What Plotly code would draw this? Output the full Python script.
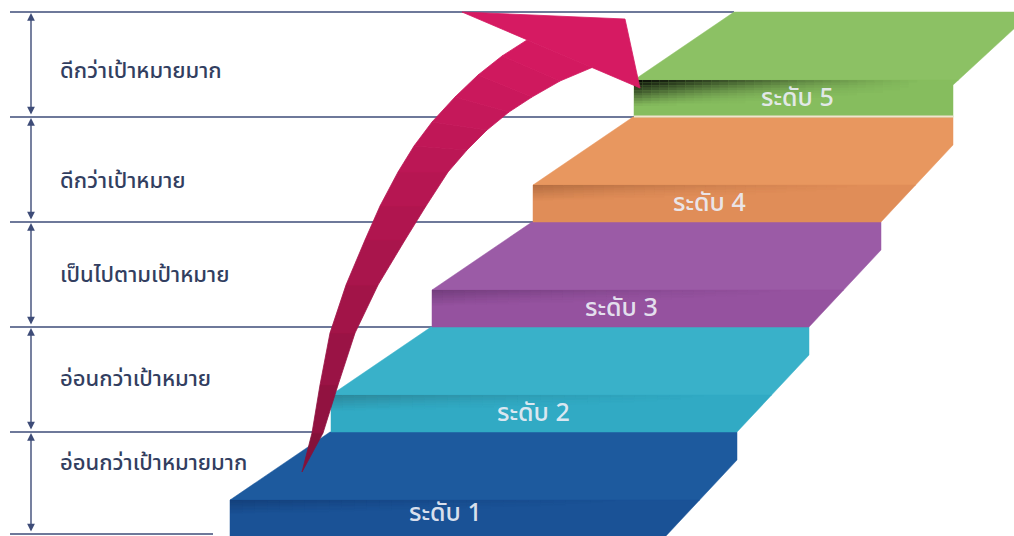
import plotly.graph_objects as go

# ---------------- data ----------------
levels = [1, 2, 3, 4, 5]
level_labels = ["ระดับ 1", "ระดับ 2", "ระดับ 3", "ระดับ 4", "ระดับ 5"]
band_labels = ["อ่อนกว่าเป้าหมายมาก", "อ่อนกว่าเป้าหมาย", "เป็นไปตามเป้าหมาย",
               "ดีกว่าเป้าหมาย", "ดีกว่าเป้าหมายมาก"]

# ---------------- styling / layout ----------------
W, H = 1014, 536
top_colors = ["#1d5a9e", "#39b1c9", "#9b5ba6", "#e8975f", "#8cc164"]
front_colors = ["#1a5296", "#31aac4", "#95529f", "#e08d58", "#86bd5e"]
shadow_rgb = ["10,30,70", "40,90,100", "60,30,70", "110,60,30", "0,0,0"]
shadow_alpha = [0.35, 0.45, 0.40, 0.40, 1.0]
shadow_band = [14, 16, 16, 16, 26]
line_col = "rgb(62,76,120)"
text_col = "rgb(50,62,96)"
FONT = "Noto Sans Thai, Tahoma, Leelawadee UI, DejaVu Sans, sans-serif"

STEP_Y, BASE_Y = 105, 432
STEP_X, BASE_XBL = 101, 330
DEPTH_X, DEPTH_Y = 100, 68
label_dy = [-20, 0, 1, 12, 7]

shapes = []
annotations = []


def poly(points, fill, line=None, lw=0, opacity=1.0, layer="above"):
    d = "M " + " L ".join(f"{x:.2f},{y:.2f}" for x, y in points) + " Z"
    shapes.append(dict(type="path", path=d, xref="x", yref="y", fillcolor=fill,
                       line=dict(color=line or fill, width=lw), opacity=opacity,
                       layer=layer))


def interp_x(pts, y):
    for (x0, y0), (x1, y1) in zip(pts[:-1], pts[1:]):
        if min(y0, y1) <= y <= max(y0, y1) and y1 != y0:
            return x0 + (x1 - x0) * (y - y0) / (y1 - y0)
    return pts[-1][0]


# ---------------- horizontal guide lines ----------------
n_lv = len(levels)
line_ys = [BASE_Y - STEP_Y * k for k in range(n_lv)]  # 432 .. 12
line_defs = [(534, 213)]
for k, y in enumerate(line_ys):
    if k == 0:
        xe = 318
    elif k == n_lv - 1:
        xe = BASE_XBL + STEP_X * k
    else:
        xe = BASE_XBL + STEP_X * (k + 1) - DEPTH_X
    line_defs.append((y, xe))
for y, xe in line_defs:
    shapes.append(dict(type="line", xref="x", yref="y", x0=10, x1=xe, y0=y, y1=y,
                       line=dict(color=line_col, width=1.5), layer="below"))

# vertical double arrows + band labels
bounds = [534] + line_ys
for k in range(n_lv):
    y_low, y_high = bounds[k], bounds[k + 1]
    annotations.append(dict(x=31, y=y_high + 1, ax=31, ay=y_low - 1, xref="x", yref="y",
                            axref="x", ayref="y", text="", showarrow=True,
                            arrowside="end+start", arrowhead=2, arrowsize=1.1,
                            arrowwidth=1.4, arrowcolor=line_col, standoff=0,
                            startstandoff=0))
    annotations.append(dict(x=58, y=(y_low + y_high) / 2 + label_dy[k], xref="x", yref="y",
                            text=band_labels[k], showarrow=False, xanchor="left",
                            yanchor="middle",
                            font=dict(family=FONT, size=22, color=text_col, weight=500)))

# ---------------- steps ----------------
for k, lv in enumerate(levels):
    yb = BASE_Y - STEP_Y * (lv - 1)
    ybot = min(yb + STEP_Y, H + 2)
    yf = yb + DEPTH_Y
    xbl = BASE_XBL + STEP_X * (lv - 1)
    xfl = xbl - DEPTH_X
    if lv < n_lv:
        xbr = 737 + 72 * (lv - 1)
        right = [(xbr, yb), (xbr, yb + 28), (xbr - 72, yb + STEP_Y)]
    else:
        right = [(W + 2, yb), (W + 2, yb + 15), (953, yb + 73), (953, yb + STEP_Y)]
    xr_f = interp_x(right, yf)
    top_pts = [(xbl, yb)] + [p for p in right if p[1] < yf] + [(xr_f, yf), (xfl, yf)]
    front_pts = [(xfl, yf), (xr_f, yf)] + [(interp_x(right, p[1]), min(p[1], ybot))
                                          for p in right if p[1] > yf]
    if front_pts[-1][1] < ybot:
        front_pts.append((interp_x(right, ybot), ybot))
    front_pts.append((xfl, ybot))
    poly(top_pts, top_colors[k], lw=0.5)
    poly(front_pts, front_colors[k], lw=0.5)
    # shadow band at top of front face (dark on the left, fading right & down)
    nx, ny, band = 34, 10, shadow_band[k]
    x_end = xfl + 0.9 * (xr_f - xfl)
    for i in range(nx):
        xa = xfl + (x_end - xfl) * i / nx
        xb = xfl + (x_end - xfl) * (i + 1) / nx
        xt = (i + 0.5) / nx
        for j in range(ny):
            ya = yf + band * j / ny
            yb2 = yf + band * (j + 1) / ny
            yt = (j + 0.5) / ny
            a = shadow_alpha[k] * (1 - xt) ** 1.3 * (1 - yt) ** (1.0 + 3.0 * xt)
            if a < 0.01:
                continue
            shapes.append(dict(type="rect", xref="x", yref="y", x0=xa, x1=xb,
                               y0=ya, y1=yb2, fillcolor=f"rgba({shadow_rgb[k]},{a:.3f})",
                               line=dict(width=0), layer="above"))
    if lv == n_lv:
        # light seam under the top step
        shapes.append(dict(type="line", xref="x", yref="y", x0=xfl, x1=953,
                           y0=ybot - 0.5, y1=ybot - 0.5,
                           line=dict(color="rgb(242,228,205)", width=2), layer="above"))
    annotations.append(dict(x=445 + 88 * (lv - 1), y=min(yb + 86, 513), xref="x", yref="y",
                            text=level_labels[k], showarrow=False, yanchor="middle",
                            font=dict(family=FONT, size=25, color="rgba(236,238,246,0.93)",
                                      weight=500)))

# ---------------- big curved arrow ----------------
outer = [(302, 472), (312, 433), (320, 385), (330, 333), (346, 285), (365, 240),
         (380, 206), (398, 172), (414, 146), (432, 122), (455, 97), (478, 75),
         (502, 56), (527, 40)]
inner = [(302, 472), (323, 433), (338, 385), (355, 333), (378, 285), (405, 240),
         (426, 206), (448, 172), (467, 150), (487, 130), (509, 112), (532, 97),
         (560, 81), (592, 67.5)]
c_bot = (120, 16, 52)
c_top = (214, 26, 98)
n = len(outer) - 1
for i in range(n):
    t = (i + 0.5) / n
    t = t ** 0.6
    c = tuple(int(c_bot[m] + (c_top[m] - c_bot[m]) * t) for m in range(3))
    col = f"rgb({c[0]},{c[1]},{c[2]})"
    poly([outer[i], outer[i + 1], inner[i + 1], inner[i]], col, lw=0.8)
poly([(462, 12), (625, 19), (640, 88)], "rgb(214,26,98)", lw=0.8)

fig = go.Figure()
fig.add_trace(go.Scatter(x=[0, W], y=[0, H], mode="markers",
                         marker=dict(opacity=0), hoverinfo="skip", showlegend=False))
fig.update_layout(
    width=W, height=H, margin=dict(l=0, r=0, t=0, b=0),
    paper_bgcolor="white", plot_bgcolor="white",
    xaxis=dict(range=[0, W], visible=False, fixedrange=True),
    yaxis=dict(range=[H, 0], visible=False, fixedrange=True),
    shapes=shapes, annotations=annotations, showlegend=False,
)
fig.write_html("out.html")
